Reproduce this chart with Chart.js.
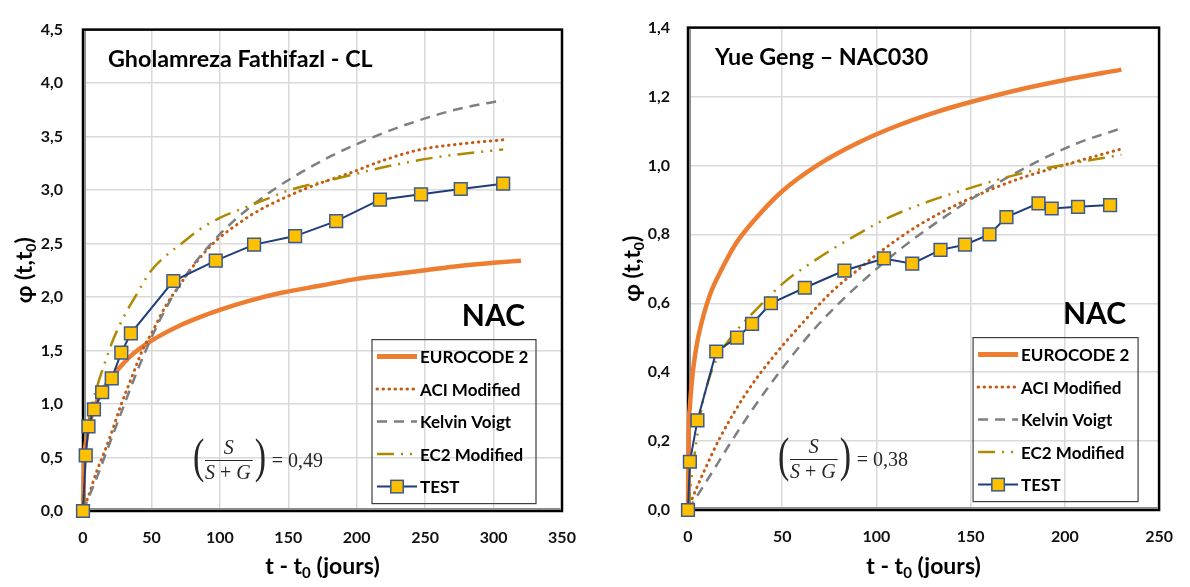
<!DOCTYPE html>
<html>
<head>
<meta charset="utf-8">
<script src="https://cdn.jsdelivr.net/npm/chart.js@4.4.1/dist/chart.umd.min.js"></script>
<style>
  html, body { margin: 0; padding: 0; background: #fff; }
  #wrap { position: relative; width: 1190px; height: 587px; }
  .box { position: absolute; top: 0; width: 595px; height: 587px; }
</style>
</head>
<body>
<div id="wrap">
  <div class="box" style="left:0"><canvas id="left"></canvas></div>
  <div class="box" style="left:595px"><canvas id="right"></canvas></div>
</div>
<script>
// ---- left : Gholamreza Fathifazl - CL ----
const leftTestT   = [0, 2, 4, 8, 14, 21, 28, 35, 66, 97, 125, 155, 185, 217, 247, 276, 307];
const leftTestPhi = [0, 0.52, 0.79, 0.95, 1.11, 1.24, 1.48, 1.66, 2.15, 2.34, 2.49, 2.57, 2.71, 2.91, 2.96, 3.01, 3.06];

const leftEc2T   = [0, 1, 2, 4, 7, 10, 15, 20, 26, 35, 45, 55, 70, 85, 100, 120, 145, 175, 200, 225, 250, 275, 300, 320];
const leftEc2Phi = [0, 0.51, 0.63, 0.78, 0.92, 1.02, 1.14, 1.24, 1.33, 1.45, 1.55, 1.63, 1.73, 1.81, 1.88, 1.96, 2.04, 2.11, 2.17, 2.21, 2.25, 2.29, 2.32, 2.34];

const leftAciT   = [0, 4, 10, 15, 20, 28, 35, 44, 50, 61, 70, 80, 95, 115, 130, 151, 170, 193, 220, 247, 275, 307];
const leftAciPhi = [0, 0.14, 0.37, 0.53, 0.7, 1.0, 1.23, 1.52, 1.66, 1.93, 2.1, 2.28, 2.5, 2.7, 2.82, 2.95, 3.05, 3.15, 3.28, 3.38, 3.43, 3.47];

const leftKvT   = [0, 10, 20, 30, 40, 50, 60, 70, 80, 95, 110, 125, 140, 160, 180, 200, 225, 250, 275, 307];
const leftKvPhi = [0, 0.31, 0.65, 0.99, 1.32, 1.62, 1.88, 2.1, 2.29, 2.52, 2.71, 2.87, 3.01, 3.17, 3.31, 3.43, 3.56, 3.67, 3.76, 3.84];

const leftEc2mT   = [0, 2, 5, 10, 15, 22, 30, 38, 50, 60, 72, 85, 100, 115, 135, 151, 183, 222, 260, 307];
const leftEc2mPhi = [0, 0.6, 0.9, 1.15, 1.35, 1.6, 1.82, 2.0, 2.25, 2.38, 2.5, 2.63, 2.74, 2.82, 2.92, 3.0, 3.1, 3.22, 3.31, 3.38];

// ---- right : Yue Geng – NAC030 ----
const rightTestT   = [0, 1, 5, 15, 26, 34, 44, 62, 83, 104, 119, 134, 147, 160, 169, 186, 193, 207, 224];
const rightTestPhi = [0, 0.14, 0.26, 0.46, 0.5, 0.54, 0.6, 0.645, 0.695, 0.73, 0.715, 0.755, 0.77, 0.8, 0.85, 0.89, 0.875, 0.88, 0.885];

const rightEc2T   = [0, 0.3, 1, 2, 3, 5, 8, 12, 18, 25, 35, 50, 70, 90, 110, 130, 150, 175, 200, 230];
const rightEc2Phi = [0, 0.21, 0.3, 0.37, 0.42, 0.49, 0.56, 0.63, 0.7, 0.77, 0.84, 0.925, 1.005, 1.065, 1.113, 1.152, 1.184, 1.219, 1.248, 1.278];

const rightAciT   = [0, 2.6, 10, 17, 31, 45, 60, 76, 92, 101, 122, 148, 175, 199, 230];
const rightAciPhi = [0, 0.038, 0.13, 0.21, 0.34, 0.443, 0.538, 0.632, 0.705, 0.745, 0.825, 0.9, 0.96, 1.0, 1.048];

const rightKvT   = [0, 10, 22, 34, 52, 67, 82, 97, 111, 136, 160, 185, 206, 230];
const rightKvPhi = [0, 0.085, 0.19, 0.29, 0.425, 0.525, 0.61, 0.685, 0.75, 0.85, 0.935, 1.01, 1.063, 1.108];

const rightEc2mT   = [0, 1, 3, 5, 7, 10, 13, 17, 22, 28, 35, 44, 52, 62, 76, 90, 105, 125, 150, 177, 203, 230];
const rightEc2mPhi = [0, 0.05, 0.14, 0.22, 0.29, 0.36, 0.41, 0.455, 0.495, 0.535, 0.575, 0.625, 0.665, 0.705, 0.755, 0.8, 0.845, 0.89, 0.935, 0.977, 1.005, 1.031];

const seriesNames = ['EUROCODE 2', 'ACI Modified', 'Kelvin Voigt', 'EC2 Modified', 'TEST'];

const SANS = 'Lato, "Open Sans", "DejaVu Sans", sans-serif';
const SERIF = '"Liberation Serif", "DejaVu Serif", serif';

const styles = {
  'EUROCODE 2':   { borderColor: '#ED7D31', borderWidth: 4.5, borderDash: [], order: 4 },
  'ACI Modified': { borderColor: '#C55A11', borderWidth: 3, borderDash: [0.5, 5.5], borderCapStyle: 'round', order: 3 },
  'Kelvin Voigt': { borderColor: '#7F7F7F', borderWidth: 2.5, borderDash: [10, 7], order: 2 },
  'EC2 Modified': { borderColor: '#AE8A00', borderWidth: 2.5, borderDash: [17, 7, 2, 7, 2, 7], order: 1 },
  'TEST':         { borderColor: '#1F3D7A', borderWidth: 2, borderDash: [], order: 0,
                    pointRadius: 9, pointStyle: 'rect', pointBackgroundColor: '#FFC000',
                    pointBorderColor: '#3C5A8C', pointBorderWidth: 1.5 }
};

function series(label, xs, ys) {
  return Object.assign({
    label: label,
    data: xs.map((x, i) => ({ x: x, y: ys[i] })),
    showLine: true,
    fill: false,
    clip: false,
    pointRadius: 0,
    pointHoverRadius: 0,
    cubicInterpolationMode: label === 'TEST' ? 'default' : 'monotone',
    tension: 0
  }, styles[label]);
}

// text made of pieces (for subscripts)
function drawParts(ctx, parts, x, y, align) {
  let w = 0;
  parts.forEach(p => { ctx.font = p.font; p.w = ctx.measureText(p.text).width; w += p.w; });
  let cx = align === 'center' ? x - w / 2 : (align === 'right' ? x - w : x);
  ctx.textAlign = 'left';
  parts.forEach(p => { ctx.font = p.font; ctx.fillText(p.text, cx, y + (p.dy || 0)); cx += p.w; });
  return w;
}

function drawRatio(ctx, x, yBar, value) {
  ctx.save();
  ctx.fillStyle = '#262626';
  ctx.strokeStyle = '#262626';
  ctx.textBaseline = 'alphabetic';
  ctx.textAlign = 'left';
  const it = 'italic 20px ' + SERIF, rg = '20px ' + SERIF;

  ctx.font = it; const sW = ctx.measureText('S').width; const gW = ctx.measureText('G').width;
  ctx.font = rg; const pW = ctx.measureText(' + ').width;
  const dW = sW + pW + gW;

  ctx.save();
  ctx.font = '34px ' + SERIF;
  ctx.translate(x, yBar);
  ctx.scale(1, 1.45);
  ctx.fillText('(', 0, 8);
  ctx.restore();

  const fx = x + 12;
  ctx.font = it;
  ctx.fillText('S', fx + dW / 2 - sW / 2 + 1, yBar - 6);
  drawParts(ctx, [
    { text: 'S', font: it }, { text: ' + ', font: rg }, { text: 'G', font: it }
  ], fx, yBar + 19, 'left');
  ctx.lineWidth = 1;
  ctx.beginPath(); ctx.moveTo(fx, yBar + 0.5); ctx.lineTo(fx + dW + 2, yBar + 0.5); ctx.stroke();

  const rx = fx + dW + 4;
  ctx.save();
  ctx.font = '34px ' + SERIF;
  ctx.translate(rx, yBar);
  ctx.scale(1, 1.45);
  ctx.fillText(')', 0, 8);
  ctx.restore();

  ctx.font = rg;
  ctx.fillText('= ' + value, rx + 17, yBar + 7);
  ctx.restore();
}

const decor = {
  id: 'decor',
  beforeDatasetsDraw(chart, args, o) {
    const a = chart.chartArea, ctx = chart.ctx;
    ctx.save();
    ctx.strokeStyle = '#000';
    ctx.lineWidth = 2.5;
    ctx.strokeRect(a.left, a.top, a.right - a.left, a.bottom - a.top);
    ctx.strokeStyle = '#8C8C8C';
    ctx.lineWidth = 2;
    ctx.beginPath();
    ctx.moveTo(a.left + 2, a.top + 1.5);
    ctx.lineTo(a.left + 2, a.bottom - 2);
    ctx.lineTo(a.right - 1.5, a.bottom - 2);
    ctx.stroke();
    ctx.restore();
  },
  afterDraw(chart, args, o) {
    const a = chart.chartArea, ctx = chart.ctx;
    ctx.save();
    ctx.fillStyle = '#000';
    ctx.textBaseline = 'alphabetic';

    // title inside plot
    ctx.font = 'bold 23.3px ' + SANS;
    ctx.textAlign = 'left';
    ctx.fillText(o.title, a.left + o.titleDx, a.top + 37);

    // NAC
    ctx.font = 'bold 30px ' + SANS;
    ctx.textAlign = 'right';
    ctx.fillText('NAC', a.right - o.nacDx, a.top + 296);

    // S/(S+G) ratio
    drawRatio(ctx, a.left + o.ratioDx, a.bottom - 51, o.ratio);

    // legend
    const lx = a.right - o.legRight - o.legW, ly = a.top + 310;
    ctx.strokeStyle = '#3F3F3F';
    ctx.lineWidth = 1.2;
    ctx.strokeRect(lx, ly, o.legW, 164);
    seriesNames.forEach((name, i) => {
      const ds = chart.data.datasets.find(d => d.label === name);
      const y = ly + 17 + i * 32.5;
      const x0 = lx + 5, x1 = lx + 45;
      ctx.save();
      ctx.strokeStyle = ds.borderColor;
      ctx.lineWidth = name === 'EUROCODE 2' ? 5 : ds.borderWidth;
      ctx.setLineDash(ds.borderDash || []);
      ctx.lineCap = ds.borderCapStyle || 'butt';
      ctx.beginPath(); ctx.moveTo(x0, y); ctx.lineTo(x1, y); ctx.stroke();
      if (ds.pointRadius > 0) {
        const s = 12.5;
        ctx.setLineDash([]);
        ctx.fillStyle = ds.pointBackgroundColor;
        ctx.strokeStyle = ds.pointBorderColor;
        ctx.lineWidth = ds.pointBorderWidth;
        ctx.fillRect((x0 + x1) / 2 - s / 2, y - s / 2, s, s);
        ctx.strokeRect((x0 + x1) / 2 - s / 2, y - s / 2, s, s);
      }
      ctx.restore();
      ctx.font = 'bold 17px ' + SANS;
      ctx.textAlign = 'left';
      ctx.textBaseline = 'middle';
      ctx.fillStyle = '#000';
      ctx.fillText(name, lx + 48, y + 1);
      ctx.textBaseline = 'alphabetic';
    });

    // axis titles
    ctx.fillStyle = '#000';
    drawParts(ctx, [
      { text: 't - t', font: 'bold 23px ' + SANS },
      { text: '0', font: 'bold 15px ' + SANS, dy: 4 },
      { text: ' (jours)', font: 'bold 23px ' + SANS }
    ], (a.left + a.right) / 2, 574, 'center');

    ctx.save();
    ctx.translate(o.yTitleX, (a.top + a.bottom) / 2);
    ctx.rotate(-Math.PI / 2);
    drawParts(ctx, [
      { text: 'φ (t,t', font: 'bold 23px ' + SANS },
      { text: '0', font: 'bold 14px ' + SANS, dy: 4 },
      { text: ')', font: 'bold 23px ' + SANS }
    ], 0, 8, 'center');
    ctx.restore();

    ctx.restore();
  }
};

function makeChart(id, cfg) {
  const tickFont = { family: SANS, size: 16, weight: 'bold' };
  new Chart(document.getElementById(id), {
    type: 'scatter',
    data: { datasets: cfg.datasets },
    options: {
      responsive: true,
      maintainAspectRatio: false,
      animation: false,
      events: [],
      layout: { padding: { left: 0, top: 13, right: cfg.padRight, bottom: 0 } },
      plugins: {
        legend: { display: false },
        tooltip: { enabled: false },
        decor: cfg.decor
      },
      scales: {
        x: {
          type: 'linear',
          min: 0,
          max: cfg.xMax,
          ticks: { stepSize: 50, font: tickFont, color: '#111', padding: 17 },
          grid: { color: '#D9D9D9', lineWidth: 1.5, drawTicks: false },
          border: { display: false },
          afterFit: s => { s.height = cfg.xHeight; }
        },
        y: {
          min: 0,
          max: cfg.yMax,
          ticks: {
            stepSize: cfg.yStep, font: tickFont, color: '#111', padding: cfg.yPad,
            callback: v => v.toFixed(1).replace('.', ',')
          },
          grid: { color: '#D9D9D9', lineWidth: 1.5, drawTicks: false },
          border: { display: false },
          afterFit: s => { s.width = cfg.yWidth; }
        }
      }
    },
    plugins: [decor]
  });
}

makeChart('left', {
  datasets: [
    series('EUROCODE 2', leftEc2T, leftEc2Phi),
    series('ACI Modified', leftAciT, leftAciPhi),
    series('Kelvin Voigt', leftKvT, leftKvPhi),
    series('EC2 Modified', leftEc2mT, leftEc2mPhi),
    series('TEST', leftTestT, leftTestPhi)
  ],
  xMax: 350, yMax: 4.5, yStep: 0.5,
  padRight: 33, xHeight: 76, yWidth: 83, yPad: 20,
  decor: { title: 'Gholamreza Fathifazl - CL', titleDx: 25, nacDx: 37, ratio: '0,49', ratioDx: 110,
           legRight: 26, legW: 164, yTitleX: 24 }
});

makeChart('right', {
  datasets: [
    series('EUROCODE 2', rightEc2T, rightEc2Phi),
    series('ACI Modified', rightAciT, rightAciPhi),
    series('Kelvin Voigt', rightKvT, rightKvPhi),
    series('EC2 Modified', rightEc2mT, rightEc2mPhi),
    series('TEST', rightTestT, rightTestPhi)
  ],
  xMax: 250, yMax: 1.4, yStep: 0.2,
  padRight: 27, xHeight: 77, yWidth: 93, yPad: 18,
  decor: { title: 'Yue Geng – NAC030', titleDx: 27, nacDx: 33, ratio: '0,38', ratioDx: 90,
           legRight: 21, legW: 165, yTitleX: 37 }
});
</script>
</body>
</html>
